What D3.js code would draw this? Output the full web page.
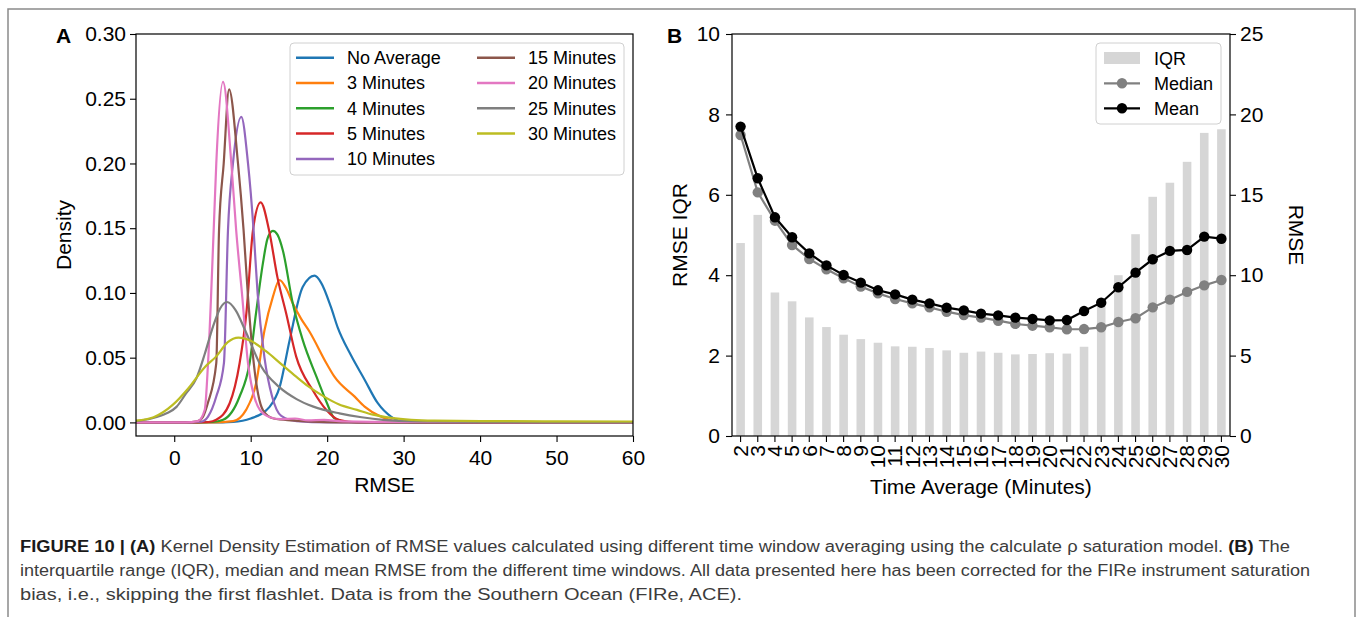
<!DOCTYPE html>
<html><head><meta charset="utf-8">
<script src="https://cdn.jsdelivr.net/npm/d3@7"></script>
<style>
body{margin:0;background:#fff}
svg{display:block}
text{font-family:"Liberation Sans",Arial,Helvetica,sans-serif}
</style>
</head><body>
<svg id="c" width="1357" height="617"></svg>
<script>
// ---------------- Panel A data: KDE curves [RMSE, density] ----------------
const seriesNames = ["No Average","3 Minutes","4 Minutes","5 Minutes","10 Minutes","15 Minutes","20 Minutes","25 Minutes","30 Minutes"];
const seriesColors = ["#1f77b4","#ff7f0e","#2ca02c","#d62728","#9467bd","#8c564b","#e377c2","#7f7f7f","#bcbd22"];

const kdeNoAverage = [[-5,0],[5,0],[7.7,0.0004],[10,0.003],[12.47,0.012],[13.8,0.0276],[15.1,0.0637],[16.8,0.1045],[18.35,0.1133],[19.2,0.108],[20.5,0.089],[21.4,0.073],[23.1,0.052],[24.9,0.033],[26.6,0.015],[28.35,0.0045],[29.6,0.001],[32,0.0001],[60,0]];
const kde3Min = [[-5,0],[5,0],[7.7,0.001],[9.4,0.0097],[10.7,0.03],[11.8,0.071],[12.9,0.097],[13.77,0.11],[14.6,0.104],[15.5,0.092],[16.6,0.08],[17.7,0.07],[19.9,0.0457],[20.95,0.0353],[23.6,0.0199],[24.9,0.0122],[27,0.0045],[29,0.001],[32,0.0001],[60,0]];
const kde4Min = [[-5,0],[3,0],[5,0.0003],[6.4,0.002],[8.55,0.02],[9.85,0.0457],[10.7,0.0845],[11.6,0.123],[12.2,0.142],[12.9,0.148],[13.5,0.145],[14.2,0.133],[15.5,0.092],[16.8,0.0637],[18.6,0.0353],[19.9,0.016],[20.95,0.0032],[22.5,0.0005],[25,0],[60,0]];
const kde5Min = [[-5,0],[3,0],[4.5,0.0003],[5.5,0.002],[7.25,0.0148],[8.55,0.0457],[9.43,0.084],[10.3,0.1485],[11.3,0.170],[12.4,0.1485],[13.5,0.112],[14.65,0.084],[15.95,0.0508],[18.1,0.025],[19.9,0.0096],[21.5,0.002],[24,0],[60,0]];
const kde10Min = [[-5,0],[2,0],[3.5,0.0005],[4.42,0.0045],[5.5,0.02],[6.5,0.0457],[7.03,0.1485],[7.68,0.2],[8.77,0.236],[9.65,0.2],[10.38,0.1485],[10.9,0.1],[11.8,0.05],[12.8,0.02],[14,0.005],[16,0.001],[20,0],[60,0]];
const kde15Min = [[-5,0],[1.5,0],[3,0.0008],[3.77,0.0045],[4.4,0.015],[5.5,0.0457],[5.86,0.1485],[6.47,0.2],[7.17,0.2573],[8.34,0.2],[9.07,0.1485],[9.65,0.097],[10.4,0.0457],[11.6,0.0096],[13,0.003],[15.5,0.0015],[18,0.0005],[22,0],[60,0]];
const kde20Min = [[-5,0],[1.5,0],[3.1,0.001],[4.0,0.01],[4.42,0.0457],[5.16,0.1485],[5.5,0.2],[6.38,0.263],[7.47,0.2],[8.1,0.1485],[8.9,0.097],[9.65,0.0457],[11.2,0.0096],[12.5,0.004],[14,0.0025],[15.8,0.003],[17.5,0.0015],[19.6,0.002],[22,0.0008],[30,0.0003],[60,0.0002]];
const kde25Min = [[-5,0.001],[-3,0.003],[-1,0.007],[0.3,0.012],[1.5,0.022],[2.9,0.034],[4,0.053],[5.07,0.074],[6,0.088],[6.9,0.093],[8,0.087],[9.43,0.069],[11.4,0.043],[13.67,0.0276],[16,0.018],[18.2,0.0122],[21.6,0.007],[24.5,0.004],[27.3,0.002],[32,0.0008],[40,0.0004],[60,0.0002]];
const kde30Min = [[-5,0.0014],[-2.7,0.004],[-0.2,0.0135],[1.8,0.026],[4.05,0.043],[5.5,0.051],[7,0.062],[8.4,0.0655],[10,0.063],[12,0.055],[14,0.045],[15.95,0.0353],[17.5,0.028],[19.6,0.0199],[21.5,0.014],[23.9,0.0097],[26,0.006],[28.4,0.0035],[31,0.002],[34,0.0013],[40,0.001],[50,0.0008],[60,0.0007]];
const kdeSeries = [kdeNoAverage,kde3Min,kde4Min,kde5Min,kde10Min,kde15Min,kde20Min,kde25Min,kde30Min];

const densityTicks = [0,0.05,0.10,0.15,0.20,0.25,0.30];
const rmseTicks = [0,10,20,30,40,50,60];

// ---------------- Panel B data ----------------
const timeWindows = [2,3,4,5,6,7,8,9,10,11,12,13,14,15,16,17,18,19,20,21,22,23,24,25,26,27,28,29,30];
const iqrValues = [4.80,5.50,3.57,3.35,2.95,2.71,2.52,2.41,2.32,2.23,2.22,2.19,2.13,2.07,2.10,2.07,2.03,2.04,2.06,2.05,2.22,3.3,4.0,5.02,5.95,6.30,6.82,7.54,7.63];
const meanValues = [19.24,16.03,13.6,12.36,11.36,10.61,10.01,9.54,9.06,8.81,8.48,8.25,7.98,7.81,7.61,7.50,7.36,7.28,7.19,7.21,7.77,8.29,9.25,10.16,10.99,11.51,11.57,12.40,12.27];
const medianValues = [18.72,15.15,13.39,11.88,11.01,10.37,9.81,9.29,8.87,8.52,8.25,8.00,7.73,7.52,7.36,7.17,6.97,6.86,6.76,6.64,6.65,6.76,7.09,7.32,8.00,8.48,8.96,9.37,9.70];
const iqrTicks = [0,2,4,6,8,10];
const rmseRightTicks = [0,5,10,15,20,25];

const svg = d3.select("#c");
const FS = 21;

// outer frame
svg.append("rect").attr("x",8).attr("y",9).attr("width",1347).attr("height",640)
  .attr("fill","none").attr("stroke","#8a8a8a").attr("stroke-width",1.5);

function styleAxis(g){
  g.select(".domain").remove();
  g.selectAll(".tick line").attr("stroke","#000").attr("stroke-width",1.1);
  g.selectAll(".tick text").attr("font-size",FS).attr("fill","#000");
}

// ================= Panel A =================
const A = {l:136, r:633, t:34, b:436};
const xA = d3.scaleLinear().domain([-5,60]).range([A.l,A.r]);
const yA = d3.scaleLinear().domain([-0.0105,0.30]).range([A.b,A.t]);

const gA = svg.append("g");
gA.append("clipPath").attr("id","clipA").append("rect")
  .attr("x",A.l).attr("y",A.t).attr("width",A.r-A.l).attr("height",A.b-A.t);

const lineA = d3.line().x(d=>xA(d[0])).y(d=>yA(d[1])).curve(d3.curveMonotoneX);
kdeSeries.forEach((s,i)=>{
  gA.append("path").attr("d",lineA(s)).attr("fill","none")
    .attr("stroke",seriesColors[i]).attr("stroke-width",2.2).attr("clip-path","url(#clipA)");
});

gA.append("g").attr("transform",`translate(0,${A.b})`)
  .call(d3.axisBottom(xA).tickValues(rmseTicks).tickFormat(d3.format("d")).tickSize(6).tickPadding(8))
  .call(styleAxis);
gA.append("g").attr("transform",`translate(${A.l},0)`)
  .call(d3.axisLeft(yA).tickValues(densityTicks).tickFormat(d3.format(".2f")).tickSize(6).tickPadding(4))
  .call(styleAxis);
gA.append("rect").attr("x",A.l).attr("y",A.t).attr("width",A.r-A.l).attr("height",A.b-A.t)
  .attr("fill","none").attr("stroke","#000").attr("stroke-width",1.2);

gA.append("text").attr("x",(A.l+A.r)/2).attr("y",492).attr("text-anchor","middle").attr("font-size",FS).text("RMSE");
gA.append("text").attr("transform",`translate(71,${(A.t+A.b)/2}) rotate(-90)`).attr("text-anchor","middle").attr("font-size",FS).text("Density");
gA.append("text").attr("x",56).attr("y",43).attr("font-size",FS).attr("font-weight","bold").text("A");

// legend A
const legA = gA.append("g");
legA.append("rect").attr("x",290).attr("y",43).attr("width",334).attr("height",132).attr("rx",4)
  .attr("fill","#fff").attr("fill-opacity",0.8).attr("stroke","#d0d0d0").attr("stroke-width",1);
seriesNames.forEach((n,i)=>{
  const col = i<5?0:1, row = i<5?i:i-5;
  const lx = col===0?296:477, tx = col===0?347:528;
  const y = 57.7 + row*25.3;
  legA.append("line").attr("x1",lx).attr("x2",lx+38).attr("y1",y).attr("y2",y)
    .attr("stroke",seriesColors[i]).attr("stroke-width",2.5);
  legA.append("text").attr("x",tx).attr("y",y).attr("dy","0.35em").attr("font-size",18).text(n);
});

// ================= Panel B =================
const B = {l:732, r:1230, t:34, b:436};
const xB = d3.scaleBand().domain(timeWindows).range([B.l,B.r]).paddingInner(0.5).paddingOuter(0.25);
const yBL = d3.scaleLinear().domain([0,10]).range([B.b,B.t]);
const yBR = d3.scaleLinear().domain([0,25]).range([B.b,B.t]);
const gB = svg.append("g");

gB.selectAll("rect.bar").data(timeWindows).enter().append("rect").attr("class","bar")
  .attr("x",d=>xB(d)).attr("width",xB.bandwidth())
  .attr("y",(d,i)=>yBL(iqrValues[i])).attr("height",(d,i)=>yBL(0)-yBL(iqrValues[i]))
  .attr("fill","#d6d6d6");

const cx = d=>xB(d)+xB.bandwidth()/2;
const lineMed = d3.line().x((d,i)=>cx(d)).y((d,i)=>yBR(medianValues[i]));
const lineMean = d3.line().x((d,i)=>cx(d)).y((d,i)=>yBR(meanValues[i]));
gB.append("path").attr("d",lineMed(timeWindows)).attr("fill","none").attr("stroke","#808080").attr("stroke-width",2.2);
gB.selectAll("circle.med").data(timeWindows).enter().append("circle").attr("class","med")
  .attr("cx",cx).attr("cy",(d,i)=>yBR(medianValues[i])).attr("r",5.2).attr("fill","#808080");
gB.append("path").attr("d",lineMean(timeWindows)).attr("fill","none").attr("stroke","#000").attr("stroke-width",2.2);
gB.selectAll("circle.mean").data(timeWindows).enter().append("circle").attr("class","mean")
  .attr("cx",cx).attr("cy",(d,i)=>yBR(meanValues[i])).attr("r",5.2).attr("fill","#000");

gB.append("g").attr("transform",`translate(${B.l},0)`)
  .call(d3.axisLeft(yBL).tickValues(iqrTicks).tickFormat(d3.format("d")).tickSize(6).tickPadding(6))
  .call(styleAxis);
gB.append("g").attr("transform",`translate(${B.r},0)`)
  .call(d3.axisRight(yBR).tickValues(rmseRightTicks).tickFormat(d3.format("d")).tickSize(6).tickPadding(4))
  .call(styleAxis);
const xAxB = gB.append("g").attr("transform",`translate(0,${B.b})`)
  .call(d3.axisBottom(xB).tickSize(6).tickPadding(3))
  .call(styleAxis);
xAxB.selectAll(".tick text").attr("transform","rotate(-90)").attr("text-anchor","end")
  .attr("x",-9).attr("y",0).attr("dy","0.35em");

gB.append("rect").attr("x",B.l).attr("y",B.t).attr("width",B.r-B.l).attr("height",B.b-B.t)
  .attr("fill","none").attr("stroke","#000").attr("stroke-width",1.2);

gB.append("text").attr("x",(B.l+B.r)/2).attr("y",494).attr("text-anchor","middle").attr("font-size",FS).text("Time Average (Minutes)");
gB.append("text").attr("transform",`translate(687,${(B.t+B.b)/2}) rotate(-90)`).attr("text-anchor","middle").attr("font-size",FS).text("RMSE IQR");
gB.append("text").attr("transform",`translate(1289,${(B.t+B.b)/2}) rotate(90)`).attr("text-anchor","middle").attr("font-size",FS).text("RMSE");
gB.append("text").attr("x",667).attr("y",43).attr("font-size",FS).attr("font-weight","bold").text("B");

// legend B
const legB = gB.append("g");
legB.append("rect").attr("x",1096).attr("y",43).attr("width",125).attr("height",81).attr("rx",4)
  .attr("fill","#fff").attr("fill-opacity",0.8).attr("stroke","#d0d0d0").attr("stroke-width",1);
legB.append("rect").attr("x",1104).attr("y",52).attr("width",36).attr("height",12).attr("fill","#d6d6d6");
legB.append("text").attr("x",1154).attr("y",58.3).attr("dy","0.35em").attr("font-size",18).text("IQR");
[["Median","#808080",83.3],["Mean","#000",108.3]].forEach(([n,c,y])=>{
  legB.append("line").attr("x1",1104).attr("x2",1140).attr("y1",y).attr("y2",y).attr("stroke",c).attr("stroke-width",2.2);
  legB.append("circle").attr("cx",1122).attr("cy",y).attr("r",5.2).attr("fill",c);
  legB.append("text").attr("x",1154).attr("y",y).attr("dy","0.35em").attr("font-size",18).text(n);
});

// ================= Caption =================
const capLines = [
  {y:552, len:1270, parts:[["FIGURE 10 | (A)",true]," Kernel Density Estimation of RMSE values calculated using different time window averaging using the calculate ρ saturation model. ",["(B)",true]," The"]},
  {y:576, len:1290, parts:["interquartile range (IQR), median and mean RMSE from the different time windows. All data presented here has been corrected for the FIRe instrument saturation"]},
  {y:600, len:722, parts:["bias, i.e., skipping the first flashlet. Data is from the Southern Ocean (FIRe, ACE)."]}
];
capLines.forEach(L=>{
  const t = svg.append("text").attr("x",20).attr("y",L.y).attr("font-size",16).attr("fill","#3c3c3c")
    .attr("textLength",L.len).attr("lengthAdjust","spacingAndGlyphs");
  L.parts.forEach(p=>{
    if(Array.isArray(p)) t.append("tspan").attr("font-weight","bold").attr("fill","#1a1a1a").text(p[0]);
    else t.append("tspan").text(p);
  });
});
</script>
</body></html>
